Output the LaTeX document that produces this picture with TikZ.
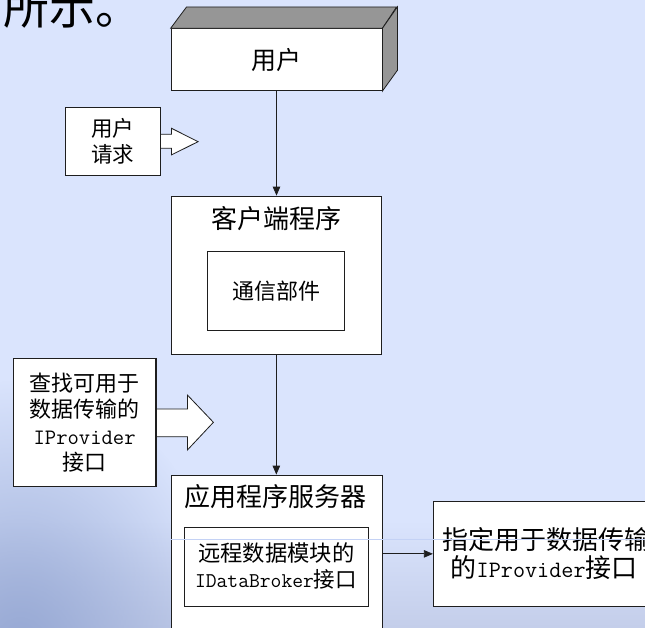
\documentclass[tikz,border=0pt]{standalone}
\usepackage{fontspec}
\newfontfamily\cjk{Noto Sans CJK SC}
\usetikzlibrary{arrows.meta,fadings}
\tikzfading[name=myfade, inner color=transparent!0, outer color=transparent!100]
\definecolor{bg}{RGB}{218,228,253}
\definecolor{bgd}{RGB}{196,206,234}
\definecolor{bgdd}{RGB}{150,168,212}
\definecolor{lc}{RGB}{30,30,30}
\definecolor{face}{RGB}{150,150,150}
\definecolor{faintc}{RGB}{196,210,245}
\newcommand\cjkfs[2]{\cjk\fontsize{#1}{#2}\selectfont}
\newcommand\lat[1]{{\ttfamily #1}}
\begin{document}
\begin{tikzpicture}[x=1pt,y=-1pt,
  box/.style={draw=lc, fill=white, line width=0.8pt, inner sep=0pt, rectangle, align=center},
  txt/.style={inner sep=0pt, align=center, text=black},
  conn/.style={draw=lc, line width=0.8pt, -{Triangle[length=9pt,width=7.5pt]}},
  fat/.style={draw=lc, fill=white, line width=0.8pt, line join=miter},
  sideface/.style={draw=lc, fill=face, line width=0.8pt, line join=miter}]
\useasboundingbox (0,0) rectangle (645,627);
\clip (0,0) rectangle (645,627);
% background
\fill[bg] (0,0) rectangle (645,627);
\shade[top color=bg, bottom color=bgd] (0,520) rectangle (645,627);
\fill[bgdd, path fading=myfade] (20,650) ellipse [x radius=210pt, y radius=270pt];
% heading fragment
\node[anchor=base west, inner sep=0pt, font=\cjkfs{46}{46}] (head) at (3,24) {所示。};
% user (3D box)
\node[box, minimum width=211pt, minimum height=62pt, font=\cjkfs{25}{30}] (user) at (276.5,59.7) {用户};
\draw[sideface] (user.north west) -- ++(16,-21.4) -- ++(210,0) -- (user.north east) -- cycle;
\draw[sideface] (user.north east) -- ++(15,-21.4) -- ++(0,63.4) -- (user.south east) -- cycle;
% user request
\node[box, minimum width=94.3pt, minimum height=67.7pt, font=\cjkfs{21.5}{26.6}] (req) at (112.85,141.15) {用户\\请求};
\draw[fat] (req.east) ++(0,-6.9) -- ++(11,0) -- ++(0,-6) -- ++(26.7,13.4) -- ++(-26.7,13.3) -- ++(0,-6.7) -- ++(-11,0);
\draw[draw=lc, line width=0.8pt] (req.north east) -- (req.south east);
% client program
\node[box, minimum width=210.7pt, minimum height=158pt] (client) at (276.35,275) {};
\node[txt, font=\cjkfs{26}{30}] (clientT) at (276,218.3) {客户端程序};
\node[box, minimum width=136.6pt, minimum height=79pt, font=\cjkfs{22}{26}] (comm) at (276,291.2) {通信部件};
% find box
\node[box, minimum width=142pt, minimum height=128.4pt, font=\cjkfs{22}{26.5}] (find) at (84.6,422.5) {查找可用于\\数据传输的\\\lat{IProvider}\\接口};
\draw[fat] (find.east) ++(0,-13.5) -- ++(31.4,0) -- ++(0,-14) -- ++(26,27.3) -- ++(-26,27.7) -- ++(0,-13.3) -- ++(-31.4,0);
\draw[draw=lc, line width=0.8pt] (find.north east) -- (find.south east);
% application server
\node[box, minimum width=211pt, minimum height=185pt] (app) at (276.5,567.5) {};
\node[txt, font=\cjkfs{26}{30}] (appT) at (275,496.7) {应用程序服务器};
\node[box, minimum width=183.9pt, minimum height=79.4pt] (rdm) at (276.35,567) {};
\node[txt, font=\cjkfs{22.3}{26}] (rdm1) at (276.3,553.3) {远程数据模块的};
\node[txt, font=\cjkfs{21.5}{26}] (rdm2) at (276,579.3) {{\ttfamily\fontsize{21}{26}\selectfont IDataBroker}接口};
% specified provider
\node[box, minimum width=231.7pt, minimum height=105.7pt] (spec) at (549.15,553.85) {};
\node[txt, anchor=west, font=\cjkfs{26}{30}] (spec1) at (442.5,540) {指定用于数据传输};
\node[txt, anchor=west, font=\cjkfs{26}{30}] (spec2) at (450.5,568) {的{\ttfamily\fontsize{23.5}{28}\selectfont IProvider}接口};
% connectors
\draw[conn] (user.south) -- (user.south |- client.north);
\draw[conn] (client.south) -- (client.south |- app.north);
\draw[conn] (app.east |- spec.west) -- (spec.west);
% faint background line
\draw[faintc, line width=0.6pt] (171,539.3) -- (645,539.3);
\end{tikzpicture}
\end{document}
